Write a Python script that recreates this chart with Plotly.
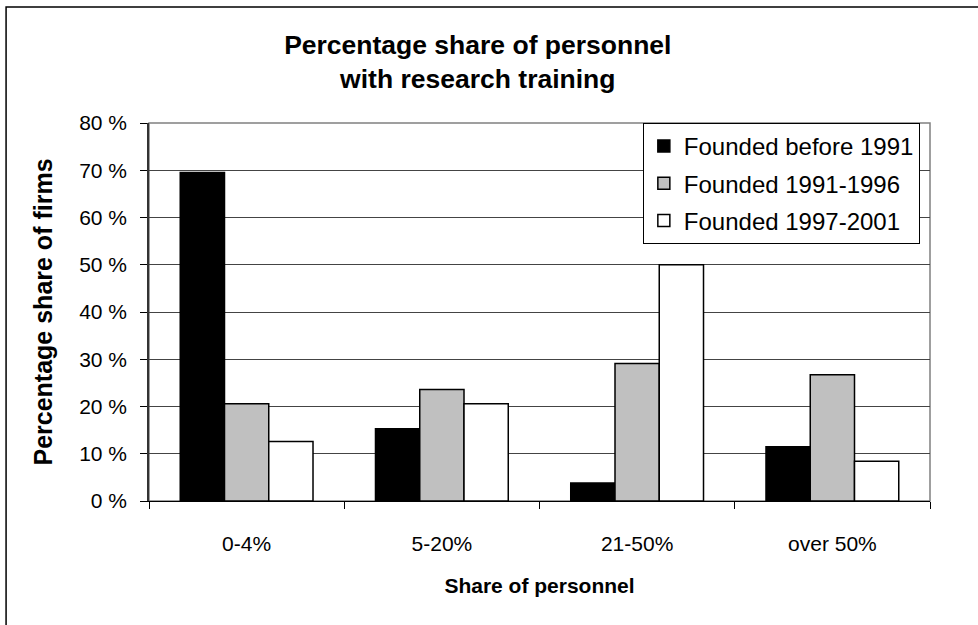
import plotly.graph_objects as go

# Dados
categorias = ['0-4%', '5-20%', '21-50%', 'over 50%']
antes_1991 = [69.5, 15.3, 3.8, 11.5]
de_1991_1996 = [20.6, 23.6, 29.1, 26.7]
de_1997_2001 = [12.6, 20.6, 50.0, 8.4]
series = ['Founded before 1991', 'Founded 1991-1996', 'Founded 1997-2001']
cores = ['#000000', '#c0c0c0', '#ffffff']
ticks_y = [0, 10, 20, 30, 40, 50, 60, 70, 80]

fonte = 'Liberation Sans, Arial, sans-serif'

fig = go.Figure()
for nome, valores, cor in zip(series, [antes_1991, de_1991_1996, de_1997_2001], cores):
    fig.add_trace(go.Bar(
        x=categorias,
        y=valores,
        name=nome,
        legendgroup=nome,
        marker=dict(color=cor, line=dict(color='black', width=1.5)),
    ))

fig.update_layout(
    width=978,
    height=625,
    margin=dict(l=149, r=48, t=123, b=124),
    paper_bgcolor='white',
    plot_bgcolor='white',
    barmode='group',
    bargap=0.32,
    bargroupgap=0,
    font=dict(family=fonte, size=21, color='black'),
    title=dict(
        text='<b>Percentage share of personnel<br>with research training</b>',
        xref='paper', x=0.421, xanchor='center', y=0.914, yanchor='top',
        font=dict(size=26.5),
    ),
    legend=dict(
        x=0.987, xanchor='right', y=1, yanchor='top',
        bordercolor='black', borderwidth=1, bgcolor='white',
        tracegroupgap=3,
        font=dict(size=24),
    ),
    xaxis=dict(
        title=dict(text='<b>Share of personnel</b>', font=dict(size=21), standoff=24),
        showline=True, linecolor='black', linewidth=1,
        ticks='outside', ticklen=7, tickcolor='black',
        tickson='boundaries',
        ticklabelstandoff=24,
    ),
    yaxis=dict(
        title=dict(text='<b>Percentage share of firms</b>', font=dict(size=25), standoff=19),
        range=[0, 80],
        tickvals=ticks_y,
        ticktext=[f'{v} %' for v in ticks_y],
        showline=True, linecolor='#333333', linewidth=1.5,
        ticks='outside', ticklen=7, tickcolor='black',
        ticklabelstandoff=9,
        showgrid=True, gridcolor='#444444', gridwidth=1,
        zeroline=False,
    ),
    shapes=[
        # borda da área do gráfico
        dict(type='rect', xref='paper', yref='paper', x0=0, x1=1, y0=0, y1=1,
             line=dict(color='#808080', width=1.5), layer='below'),
        # moldura externa
        dict(type='rect', xref='paper', yref='paper', x0=-0.183, x1=1.2, y0=-0.5, y1=1.307,
             line=dict(color='black', width=1.5), fillcolor='rgba(0,0,0,0)'),
    ],
)

# remove a margem padrão do body para alinhar com a referência
fig.write_html('out.html', config={'displayModeBar': False},
               post_script="document.body.style.margin='0';")
